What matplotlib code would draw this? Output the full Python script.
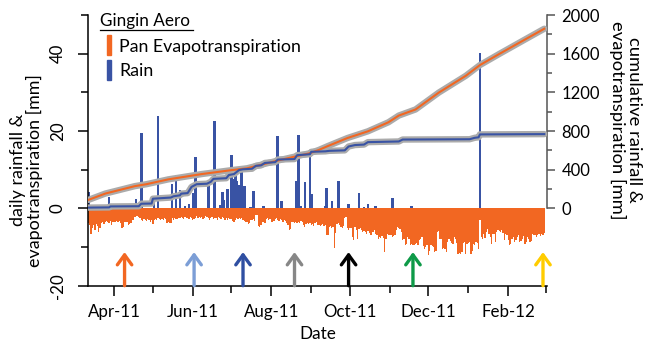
import numpy as np
import pandas as pd
import matplotlib
matplotlib.use("Agg")
import matplotlib.pyplot as plt
import matplotlib.dates as mdates
from matplotlib.ticker import MultipleLocator, FixedLocator
from matplotlib.lines import Line2D
from matplotlib.patches import Rectangle

plt.rcParams['font.family'] = ['Lato', 'DejaVu Sans']
plt.rcParams['axes.unicode_minus'] = False

ORANGE = '#f26722'
BLUE = '#3953a4'
HALO = '#ababab'

# daily pan evapotranspiration [mm], 12 Mar 2011 - 29 Feb 2012, drawn below zero
pan_mar = [-3.8, -4.2, -6.5, -5.2, -4.4, -5.7, -4.0, -4.6, -6.1, -5.0,
           -3.9, -3.6, -4.1, -3.4, -3.2, -3.5, -3.7, -3.3, -4.2, -3.4]
pan_apr = [-3.4, -3.6, -3.2, -3.5, -3.3, -3.9, -5.2, -4.8, -3.5, -3.4,
           -3.6, -4.4, -4.0, -3.8, -3.1, -2.9, -2.2, -1.9, -2.0, -2.3,
           -2.6, -3.0, -3.2, -2.8, -3.1, -3.3, -2.7, -3.0, -3.4, -3.1]
pan_may = [-4.0, -2.9, -2.7, -3.0, -2.6, -2.8, -3.1, -2.7, -2.9, -2.5,
           -2.8, -3.8, -3.6, -3.9, -3.7, -2.6, -2.9, -2.5, -2.8, -2.7,
           -2.4, -2.6, -2.3, -2.5, -2.8, -2.2, -2.6, -2.4, -2.7, -2.3, -2.5]
pan_jun = [-3.0, -2.8, -2.4, -2.1, -2.6, -2.3, -2.5, -2.2, -2.7, -2.4,
           -2.0, -2.3, -2.6, -2.9, -2.5, -2.2, -2.8, -2.4, -2.6, -3.0,
           -2.3, -2.5, -2.7, -2.2, -2.4, -2.9, -2.6, -3.1, -2.5, -2.8]
pan_jul = [-2.7, -3.2, -3.5, -2.9, -2.6, -2.8, -2.5, -2.7, -2.4, -2.9,
           -3.3, -3.6, -3.4, -4.0, -3.8, -3.1, -3.0, -2.8, -3.2, -1.6,
           -1.8, -4.5, -4.8, -4.2, -3.6, -3.4, -3.7, -2.8, -2.6, -2.9, -2.7]
pan_aug = [-3.5, -3.6, -3.3, -2.8, -2.6, -3.0, -3.2, -2.7, -3.1, -3.4,
           -3.0, -3.3, -3.8, -4.4, -5.6, -5.4, -3.6, -3.5, -3.9, -3.4,
           -3.7, -3.5, -3.8, -3.3, -3.6, -4.2, -4.8, -4.0, -3.9, -4.1, -3.8]
pan_sep = [-4.3, -4.0, -4.5, -3.8, -3.6, -4.4, -4.2, -4.6, -4.3, -4.1,
           -4.5, -4.4, -6.9, -7.0, -4.8, -4.5, -5.0, -4.7, -10.2, -6.4,
           -4.0, -3.8, -4.2, -4.8, -5.0, -4.6, -2.6, -2.2, -5.2, -5.6]
pan_oct = [-5.2, -5.0, -7.4, -8.2, -4.8, -5.5, -8.0, -5.4, -5.0, -5.7,
           -6.1, -5.8, -6.0, -6.5, -5.9, -6.4, -7.0, -6.8, -6.2, -5.7,
           -6.6, -7.0, -7.8, -7.4, -7.6, -7.2, -7.6, -11.3, -7.8, -6.5, -7.0]
pan_nov = [-7.0, -6.8, -7.3, -7.1, -6.9, -5.6, -4.8, -5.0, -5.4, -6.0,
           -8.3, -8.0, -9.5, -9.2, -7.4, -7.8, -9.4, -9.3, -9.6, -9.5,
           -9.2, -8.9, -9.4, -8.3, -8.0, -7.5, -9.8, -10.4, -10.1, -9.6]
pan_dec = [-12.1, -11.0, -9.5, -9.8, -10.0, -11.3, -11.0, -6.1, -5.9, -8.0,
           -7.8, -10.6, -10.2, -10.4, -11.3, -8.7, -7.8, -8.5, -8.9, -9.1,
           -7.4, -8.0, -9.0, -11.7, -11.5, -11.7, -11.2, -9.0, -8.8, -11.7, -9.2]
pan_jan = [-9.0, -8.7, -11.7, -11.0, -9.1, -9.4, -8.8, -9.0, -10.4, -3.1,
           -7.4, -7.8, -6.5, -7.6, -6.1, -5.4, -6.5, -7.4, -9.1, -6.5,
           -6.6, -8.7, -6.1, -5.7, -5.9, -6.0, -5.7, -6.4, -8.3, -6.5, -7.0]
pan_feb = [-8.3, -9.5, -9.3, -7.8, -7.4, -8.7, -8.3, -7.4, -7.0, -8.7,
           -8.5, -7.8, -7.2, -9.1, -8.8, -7.4, -7.8, -8.7, -8.4, -6.5,
           -7.0, -6.8, -7.4, -7.0, -6.6, -7.2, -6.5, -6.8, -6.4]
pan_et = (pan_mar + pan_apr + pan_may + pan_jun + pan_jul + pan_aug + pan_sep
          + pan_oct + pan_nov + pan_dec + pan_jan + pan_feb)
days = pd.date_range('2011-03-12', '2012-02-29', freq='D')

# daily rainfall [mm] on wet days
rain_dates = ['2011-03-12', '2011-03-28', '2011-04-18', '2011-04-22', '2011-05-02',
              '2011-05-05', '2011-05-16', '2011-05-19', '2011-05-22', '2011-05-26',
              '2011-05-29', '2011-06-01', '2011-06-03', '2011-06-13', '2011-06-18',
              '2011-06-22', '2011-06-24', '2011-06-25', '2011-06-28', '2011-07-01',
              '2011-07-02', '2011-07-04', '2011-07-05', '2011-07-07', '2011-07-09',
              '2011-07-11', '2011-07-16', '2011-07-18', '2011-07-26', '2011-08-06',
              '2011-08-09', '2011-08-20', '2011-08-22', '2011-08-24', '2011-08-27',
              '2011-08-31', '2011-09-01', '2011-09-12', '2011-09-13', '2011-09-17',
              '2011-09-22', '2011-09-30', '2011-10-08', '2011-10-12', '2011-10-15',
              '2011-10-21', '2011-11-03', '2011-11-18', '2012-01-10']
rain_mm = [4.2, 2.9, 2.5, 19.4, 2.9,
           23.8, 6.4, 8.5, 4.8, 0.5,
           1.0, 4.0, 13.2, 6.0, 22.5,
           0.8, 4.2, 2.2, 4.9, 13.7,
           7.7, 9.4, 7.2, 6.0, 9.5,
           5.7, 0.3, 4.5, 0.5, 18.8,
           1.8, 7.0, 19.1, 0.5, 6.8,
           13.6, 3.6, 0.5, 5.3, 1.9,
           7.0, 1.0, 4.1, 0.3, 1.0,
           0.5, 2.8, 0.5, 40.3]

# running totals [mm] (right axis)
cum_rain_dates = ['2011-03-12', '2011-03-28', '2011-03-29', '2011-04-20', '2011-04-22',
                  '2011-04-30', '2011-05-01', '2011-05-15', '2011-05-17', '2011-05-22',
                  '2011-05-23', '2011-05-28', '2011-05-31', '2011-06-04', '2011-06-12',
                  '2011-06-15', '2011-06-17', '2011-06-27', '2011-06-29', '2011-07-03',
                  '2011-07-07', '2011-07-10', '2011-07-17', '2011-07-20', '2011-07-24',
                  '2011-07-27', '2011-08-04', '2011-08-06', '2011-08-19', '2011-08-21',
                  '2011-08-31', '2011-09-01', '2011-09-12', '2011-09-15', '2011-09-27',
                  '2011-09-30', '2011-10-05', '2011-10-12', '2011-10-15', '2011-11-08',
                  '2011-11-11', '2012-01-02', '2012-01-06', '2012-01-09', '2012-01-10',
                  '2012-02-29']
cum_rain_mm = [8, 10, 20, 22, 48,
               50, 100, 112, 125, 135,
               152, 158, 222, 250, 255,
               275, 305, 312, 345, 355,
               397, 404, 410, 440, 445,
               470, 478, 505, 510, 550,
               560, 585, 590, 595, 600,
               640, 655, 660, 685, 692,
               712, 715, 730, 735, 765,
               768]
cum_et_dates = ['2011-03-12', '2011-03-25', '2011-04-17', '2011-04-26', '2011-05-13',
                '2011-06-08', '2011-07-02', '2011-07-13', '2011-08-08', '2011-08-31',
                '2011-09-07', '2011-09-14', '2011-09-29', '2011-10-15', '2011-10-31',
                '2011-11-08', '2011-11-21', '2011-12-09', '2011-12-30', '2012-01-10',
                '2012-01-25', '2012-02-15', '2012-02-29']
cum_et_mm = [88, 153, 230, 250, 300,
             355, 397, 414, 501, 571,
             605, 645, 727, 797, 891,
             960, 1023, 1197, 1371, 1482,
             1597, 1754, 1858]

# sampling dates marked along the bottom
arrow_dates = ['2011-04-09', '2011-06-02', '2011-07-10', '2011-08-19',
               '2011-09-30', '2011-11-19', '2012-02-28']
arrow_colors = ['#f26722', '#7c9ed6', '#2f4fa2', '#878787',
                '#000000', '#0e9a48', '#ffcc00']

x_days = mdates.date2num(days)
x_rain = mdates.date2num(pd.to_datetime(rain_dates))

fig = plt.figure(figsize=(6.45, 3.42), dpi=100)
ax = fig.add_axes([0.1364, 0.1646, 0.7116, 0.7915])

ax.bar(x_days, pan_et, width=1.0, color=ORANGE, linewidth=0, antialiased=False,
       zorder=2)
ax.bar(x_rain, rain_mm, width=2.0, color=BLUE, linewidth=0, zorder=2)

for d, c in zip(arrow_dates, arrow_colors):
    xd = mdates.date2num(pd.Timestamp(d))
    ax.annotate('', xy=(xd, -11.3), xytext=(xd, -20),
                arrowprops=dict(arrowstyle='->,head_length=0.55,head_width=0.4',
                                color=c, lw=2.4, shrinkA=0, shrinkB=0,
                                mutation_scale=13))

ax.set_ylim(-20, 50)
ax.set_xlim(mdates.date2num(pd.Timestamp('2011-03-11 14:00')),
            mdates.date2num(pd.Timestamp('2012-03-02 02:00')))
ax.set_yticks([-20, 0, 20, 40])
ax.yaxis.set_minor_locator(MultipleLocator(10))
ax.xaxis.set_major_locator(mdates.MonthLocator(bymonth=[2, 4, 6, 8, 10, 12]))
ax.xaxis.set_minor_locator(mdates.MonthLocator())
ax.xaxis.set_major_formatter(mdates.DateFormatter('%b-%y'))

for s in ['top', 'right']:
    ax.spines[s].set_visible(False)
for s in ['left', 'bottom']:
    ax.spines[s].set_linewidth(1.1)
ax.tick_params(axis='both', which='major', direction='out', length=7, width=1.1,
               labelsize=12.2)
ax.tick_params(axis='both', which='minor', direction='out', length=5, width=1.1)
ax.tick_params(axis='y', which='major', pad=9)
ax.tick_params(axis='x', which='major', pad=6)
plt.setp(ax.get_yticklabels(), rotation=90, va='center')

ax.set_ylabel('daily rainfall &\nevapotranspiration [mm]', fontsize=12.9,
              linespacing=1.0)
ax.yaxis.set_label_coords(-0.098, 0.427)
ax.set_xlabel('Date', fontsize=12.3)
ax.xaxis.set_label_coords(0.5, -0.150)

# cumulative totals on a second axis
ax2 = ax.twinx()
ax2.set_ylim(-800, 2000)
for dates, vals, c in [(cum_et_dates, cum_et_mm, ORANGE),
                       (cum_rain_dates, cum_rain_mm, BLUE)]:
    xd = mdates.date2num(pd.to_datetime(dates))
    ax2.plot(xd, vals, color=HALO, lw=4.6, solid_joinstyle='round',
             solid_capstyle='round', zorder=3)
    ax2.plot(xd, vals, color=c, lw=1.5, solid_joinstyle='round', zorder=4)
ax2.set_xlim(ax.get_xlim())

for s in ['top', 'left', 'bottom']:
    ax2.spines[s].set_visible(False)
ax2.spines['right'].set_bounds(0, 2000)
ax2.spines['right'].set_color('#555555')
ax2.spines['right'].set_linewidth(1.1)
ax2.set_yticks(np.arange(0, 2001, 400))
ax2.yaxis.set_minor_locator(FixedLocator(np.arange(200, 2000, 400)))
ax2.tick_params(axis='y', which='major', direction='out', length=5.5, width=1.1,
                color='#555555', labelsize=12, pad=5)
ax2.tick_params(axis='y', which='minor', direction='out', length=3.8, width=1.1,
                color='#555555')
ax2.set_ylabel('cumulative rainfall &\nevapotranspiration [mm]', fontsize=13.2,
               rotation=270, va='bottom', ha='center', linespacing=1.0)
ax2.yaxis.set_label_coords(1.136, 0.612)

# key with underlined station name
W, H = 645.0, 342.0
fig.text(100 / W, 1 - 26 / H, 'Gingin Aero', fontsize=12.3, ha='left', va='baseline')
fig.add_artist(Line2D([100 / W, 193 / W], [1 - 29.5 / H] * 2, color='black', lw=0.9))
fig.add_artist(Rectangle((107.3 / W, 1 - 55 / H), 3.7 / W, 20 / H, color=ORANGE,
                         transform=fig.transFigure))
fig.add_artist(Rectangle((107.3 / W, 1 - 80 / H), 3.7 / W, 20 / H, color=BLUE,
                         transform=fig.transFigure))
fig.text(119 / W, 1 - 51.7 / H, 'Pan Evapotranspiration', fontsize=12.8, ha='left',
         va='baseline')
fig.text(119 / W, 1 - 76 / H, 'Rain', fontsize=12.8, ha='left', va='baseline')

fig.savefig('out.png', dpi=100)
